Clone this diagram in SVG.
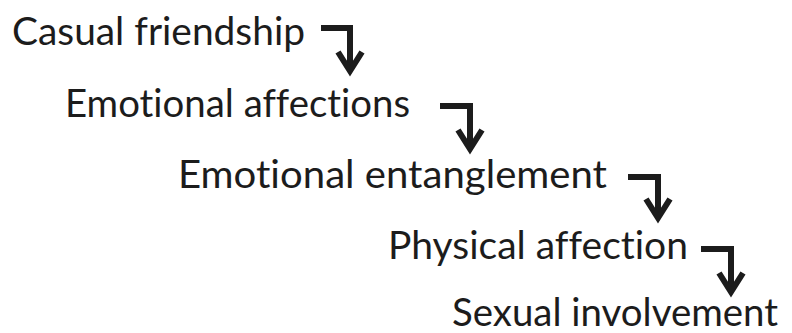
<svg xmlns="http://www.w3.org/2000/svg" width="792" height="333" viewBox="0 0 792 333">
<style>
.t{font-family:Lato,"Open Sans","Liberation Sans",sans-serif;font-size:38px;fill:#1c1c1c;font-variant-ligatures:none}
.c{fill:none;stroke:#1c1c1c;stroke-width:6;stroke-linejoin:miter}
</style>
<defs>
<marker id="ah" markerUnits="userSpaceOnUse" markerWidth="40" markerHeight="40" refX="0" refY="0" orient="auto" overflow="visible">
<path d="M-19,-12 L0,0 L-19,12" fill="none" stroke="#1c1c1c" stroke-width="6" stroke-miterlimit="10"/>
</marker>
</defs>
<rect width="792" height="333" fill="#fff"/>
<g id="n1"><text class="t" x="12" y="45" textLength="293" lengthAdjust="spacingAndGlyphs">Casual friendship</text></g>
<g id="n2"><text class="t" x="65" y="117" textLength="345" lengthAdjust="spacingAndGlyphs">Emotional affections</text></g>
<g id="n3"><text class="t" x="178" y="188" textLength="429" lengthAdjust="spacingAndGlyphs">Emotional entanglement</text></g>
<g id="n4"><text class="t" x="388" y="259" textLength="300" lengthAdjust="spacingAndGlyphs">Physical affection</text></g>
<g id="n5"><text class="t" x="452" y="326" textLength="326" lengthAdjust="spacingAndGlyphs">Sexual involvement</text></g>
<g id="connectors">
<path class="c" d="M321,28 H350 V71" marker-end="url(#ah)"/>
<path class="c" d="M440,106 H470 V149" marker-end="url(#ah)"/>
<path class="c" d="M628,177 H658 V218" marker-end="url(#ah)"/>
<path class="c" d="M701,249 H731 V292" marker-end="url(#ah)"/>
</g>
</svg>
